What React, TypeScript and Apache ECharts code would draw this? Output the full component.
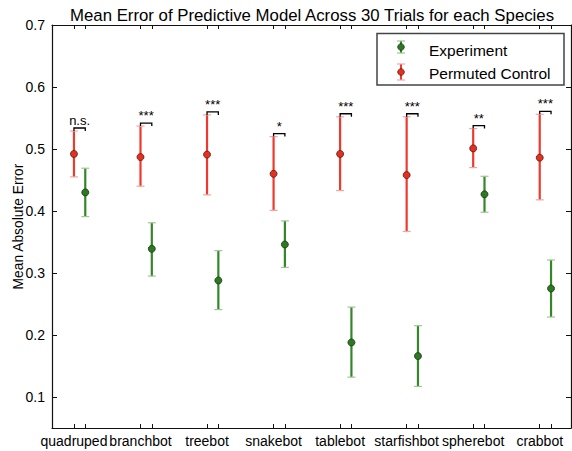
import React, { useEffect, useRef } from "react";
import * as echarts from "echarts";

const categories = ["quadruped", "branchbot", "treebot", "snakebot", "tablebot", "starfishbot", "spherebot", "crabbot"];
const expMean = [0.430, 0.339, 0.288, 0.346, 0.188, 0.166, 0.427, 0.275];
const expLower = [0.391, 0.295, 0.241, 0.309, 0.132, 0.117, 0.398, 0.229];
const expUpper = [0.469, 0.381, 0.336, 0.384, 0.245, 0.215, 0.456, 0.321];
const ctrlMean = [0.492, 0.487, 0.491, 0.460, 0.492, 0.458, 0.501, 0.486];
const ctrlLower = [0.455, 0.440, 0.426, 0.401, 0.433, 0.367, 0.470, 0.418];
const ctrlUpper = [0.529, 0.537, 0.555, 0.520, 0.552, 0.552, 0.533, 0.556];
const significance = ["n.s.", "***", "***", "*", "***", "***", "**", "***"];
const yTicks = [0.1, 0.2, 0.3, 0.4, 0.5, 0.6, 0.7];

const FONT = "'Liberation Sans', Arial, Helvetica, sans-serif";
const RED = "#ee3a2e";
const RED_CAP = "#f5a4a0";
const RED_FILL = "#e2311f";
const RED_EDGE = "#5a1a12";
const GREEN = "#35852a";
const GREEN_CAP = "#9cc890";
const GREEN_FILL = "#2b7a1f";
const GREEN_EDGE = "#1c3514";

const ctrlX = categories.map((_, i) => i + 1 - 0.17);
const expX = categories.map((_, i) => i + 1);
const tickX = [...ctrlX, ...expX].sort((a, b) => a - b);

function errorBarRenderer(color: string, capColor: string) {
  return (params: any, api: any) => {
    const x = api.value(0);
    const lo = api.value(1);
    const hi = api.value(2);
    const pHi = api.coord([x, hi]);
    const pLo = api.coord([x, lo]);
    const hw = 4;
    return {
      type: "group",
      children: [
        { type: "line", shape: { x1: pHi[0], y1: pHi[1], x2: pLo[0], y2: pLo[1] }, style: { stroke: color, lineWidth: 2.2 } },
        { type: "line", shape: { x1: pHi[0] - hw, y1: pHi[1], x2: pHi[0] + hw, y2: pHi[1] }, style: { stroke: capColor, lineWidth: 1.2 } },
        { type: "line", shape: { x1: pLo[0] - hw, y1: pLo[1], x2: pLo[0] + hw, y2: pLo[1] }, style: { stroke: capColor, lineWidth: 1.2 } },
      ],
    };
  };
}

export default function App() {
  const ref = useRef<HTMLDivElement>(null);
  useEffect(() => {
    if (!ref.current) return;
    const chart = echarts.init(ref.current, null, { renderer: "svg" });

    const commonX = {
      type: "value",
      min: 0.5,
      max: 8.3,
      splitLine: { show: false },
      axisLine: { show: true, onZero: false, lineStyle: { color: "#111", width: 1.2 } },
      axisTick: { show: true, inside: true, length: 4, customValues: tickX, lineStyle: { color: "#111", width: 1 } },
    };
    const commonY = {
      type: "value",
      min: 0.05,
      max: 0.7,
      splitLine: { show: false },
      axisLine: { show: true, onZero: false, lineStyle: { color: "#111", width: 1.2 } },
      axisTick: { show: true, inside: true, length: 5, customValues: yTicks, lineStyle: { color: "#111", width: 1 } },
    };

    const option: any = {
      animation: false,
      backgroundColor: "#fff",
      title: {
        text: "Mean Error of Predictive Model Across 30 Trials for each Species",
        left: 65,
        top: 2,
        textStyle: { fontFamily: FONT, fontSize: 16.8, fontWeight: "normal", color: "#000" },
      },
      grid: { left: 52, right: 1, top: 25, bottom: 23, containLabel: false, outerBoundsMode: "none" },
      xAxis: [
        {
          ...commonX,
          position: "bottom",
          axisLabel: {
            show: true,
            customValues: ctrlX,
            margin: 6,
            fontFamily: FONT,
            fontSize: 14,
            color: "#000",
            formatter: (v: number) => {
              const i = ctrlX.findIndex((c) => Math.abs(c - v) < 1e-6);
              return i >= 0 ? categories[i] : "";
            },
          },
        },
        { ...commonX, position: "top", axisLabel: { show: false } },
      ],
      yAxis: [
        {
          ...commonY,
          position: "left",
          name: "Mean Absolute Error",
          nameLocation: "middle",
          nameGap: 27,
          nameMoveOverlap: false,
          nameTextStyle: { fontFamily: FONT, fontSize: 13.8, color: "#000" },
          axisLabel: {
            show: true,
            customValues: yTicks,
            margin: 7,
            fontFamily: FONT,
            fontSize: 14,
            color: "#000",
            formatter: (v: number) => v.toFixed(1),
          },
        },
        { ...commonY, position: "right", axisLabel: { show: false } },
      ],
      series: [
        {
          type: "custom",
          name: "Permuted Control bars",
          xAxisIndex: 0,
          yAxisIndex: 0,
          renderItem: errorBarRenderer(RED, RED_CAP),
          encode: { x: 0, y: [1, 2] },
          data: ctrlX.map((x, i) => [x, ctrlLower[i], ctrlUpper[i]]),
          z: 2,
        },
        {
          type: "custom",
          name: "Experiment bars",
          xAxisIndex: 0,
          yAxisIndex: 0,
          renderItem: errorBarRenderer(GREEN, GREEN_CAP),
          encode: { x: 0, y: [1, 2] },
          data: expX.map((x, i) => [x, expLower[i], expUpper[i]]),
          z: 2,
        },
        {
          type: "scatter",
          name: "Permuted Control",
          symbol: "circle",
          symbolSize: 7,
          itemStyle: { color: RED_FILL, borderColor: RED_EDGE, borderWidth: 0.8, opacity: 1 },
          data: ctrlX.map((x, i) => [x, ctrlMean[i]]),
          z: 3,
        },
        {
          type: "scatter",
          name: "Experiment",
          symbol: "circle",
          symbolSize: 7,
          itemStyle: { color: GREEN_FILL, borderColor: GREEN_EDGE, borderWidth: 0.8, opacity: 1 },
          data: expX.map((x, i) => [x, expMean[i]]),
          z: 3,
        },
        {
          type: "custom",
          name: "Significance",
          renderItem: (params: any, api: any) => {
            const x1 = api.value(0);
            const x2 = api.value(1);
            const top = api.value(2);
            const p1 = api.coord([x1, top]);
            const p2 = api.coord([x2, top]);
            const y = p1[1] - 3;
            return {
              type: "group",
              children: [
                {
                  type: "polyline",
                  shape: { points: [[p1[0], y + 3], [p1[0], y], [p2[0], y], [p2[0], y + 3]] },
                  style: { stroke: "#000", lineWidth: 1.3, fill: "none" },
                },
                {
                  type: "text",
                  x: (p1[0] + p2[0]) / 2,
                  y: y - 1,
                  style: {
                    text: significance[params.dataIndex],
                    align: "center",
                    verticalAlign: "bottom",
                    fontFamily: FONT,
                    fontSize: 13,
                    fill: "#000",
                  },
                },
              ],
            };
          },
          encode: { x: [0, 1], y: 2 },
          data: ctrlX.map((x, i) => [x, expX[i], Math.max(ctrlUpper[i], expUpper[i])]),
          z: 4,
        },
      ],
      graphic: [
        {
          type: "group",
          z: 100,
          children: [
            { type: "rect", shape: { x: 377, y: 33.5, width: 187, height: 51.5 }, style: { fill: "#fff", stroke: "#444", lineWidth: 1.5 } },
            { type: "line", shape: { x1: 401, y1: 41, x2: 401, y2: 53 }, style: { stroke: GREEN, lineWidth: 2 } },
            { type: "line", shape: { x1: 397, y1: 41, x2: 405, y2: 41 }, style: { stroke: GREEN_CAP, lineWidth: 1.2 } },
            { type: "line", shape: { x1: 397, y1: 53, x2: 405, y2: 53 }, style: { stroke: GREEN_CAP, lineWidth: 1.2 } },
            { type: "circle", shape: { cx: 401, cy: 47, r: 3.3 }, style: { fill: GREEN_FILL, stroke: GREEN_EDGE, lineWidth: 0.8 } },
            { type: "line", shape: { x1: 401, y1: 64, x2: 401, y2: 80 }, style: { stroke: RED, lineWidth: 2 } },
            { type: "line", shape: { x1: 397, y1: 64, x2: 405, y2: 64 }, style: { stroke: RED_CAP, lineWidth: 1.2 } },
            { type: "line", shape: { x1: 397, y1: 80, x2: 405, y2: 80 }, style: { stroke: RED_CAP, lineWidth: 1.2 } },
            { type: "circle", shape: { cx: 401, cy: 72, r: 3.3 }, style: { fill: RED_FILL, stroke: RED_EDGE, lineWidth: 0.8 } },
            { type: "text", x: 429, y: 50, style: { text: "Experiment", fontFamily: FONT, fontSize: 15.5, fill: "#000", verticalAlign: "middle" } },
            { type: "text", x: 429, y: 73, style: { text: "Permuted Control", fontFamily: FONT, fontSize: 15.5, fill: "#000", verticalAlign: "middle" } },
          ],
        },
      ],
    };
    chart.setOption(option);
    return () => chart.dispose();
  }, []);
  return <div ref={ref} style={{ width: 572, height: 451, position: "absolute", left: 0, top: 0 }} />;
}
